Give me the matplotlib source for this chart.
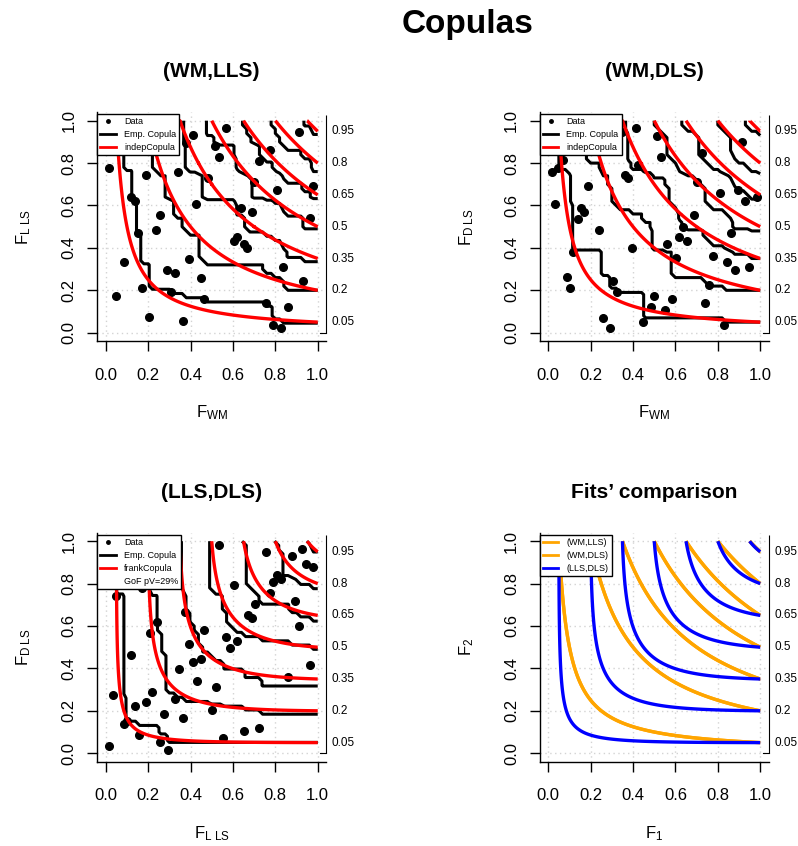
import numpy as np
import matplotlib
matplotlib.use("Agg")
import matplotlib.pyplot as plt
from matplotlib.lines import Line2D

plt.rcParams['font.family'] = ['Liberation Sans', 'DejaVu Sans']
plt.rcParams['mathtext.fontset'] = 'custom'
plt.rcParams['mathtext.rm'] = 'Liberation Sans'
plt.rcParams['mathtext.it'] = 'Liberation Sans:italic'
plt.rcParams['mathtext.bf'] = 'Liberation Sans:bold'

# contour levels of the copulas
levels = [0.05, 0.2, 0.35, 0.5, 0.65, 0.8, 0.95]
level_labels = ["0.05", "0.2", "0.35", "0.5", "0.65", "0.8", "0.95"]
tick_values = [0.0, 0.2, 0.4, 0.6, 0.8, 1.0]
tick_labels = ["0.0", "0.2", "0.4", "0.6", "0.8", "1.0"]

# fitted Frank parameter for (LLS,DLS) and GoF p-value
frank_theta = 5.0
gof_pvalue = 29

# pseudo-observations (WM, LLS)
wm_lls_u = [0.016, 0.189, 0.343, 0.378, 0.413, 0.567, 0.517, 0.534, 0.480, 0.910,
            0.775, 0.721, 0.701, 0.810, 0.980, 0.121, 0.137, 0.428, 0.258, 0.239,
            0.153, 0.636, 0.688, 0.962, 0.617, 0.605, 0.652, 0.665, 0.085, 0.394,
            0.291, 0.326, 0.447, 0.837, 0.929, 0.172, 0.309, 0.050, 0.463, 0.756,
            0.860, 0.205, 0.362, 0.790, 0.827]
wm_lls_v = [0.778, 0.742, 0.759, 0.896, 0.931, 0.966, 0.881, 0.827, 0.728, 0.948,
            0.862, 0.810, 0.709, 0.673, 0.692, 0.639, 0.623, 0.606, 0.555, 0.484,
            0.469, 0.587, 0.571, 0.540, 0.453, 0.433, 0.417, 0.398, 0.332, 0.346,
            0.296, 0.280, 0.259, 0.311, 0.244, 0.209, 0.193, 0.175, 0.159, 0.139,
            0.123, 0.073, 0.054, 0.038, 0.024]

# pseudo-observations (WM, DLS)
wm_dls_u = [0.016, 0.047, 0.071, 0.031, 0.189, 0.139, 0.154, 0.170, 0.241, 0.115,
            0.087, 0.102, 0.257, 0.291, 0.307, 0.326, 0.362, 0.378, 0.394, 0.414,
            0.425, 0.346, 0.512, 0.532, 0.449, 0.483, 0.499, 0.551, 0.586, 0.562,
            0.603, 0.619, 0.638, 0.654, 0.688, 0.724, 0.701, 0.756, 0.740, 0.776,
            0.811, 0.827, 0.843, 0.861, 0.879, 0.894, 0.915, 0.929, 0.948, 0.984]
wm_dls_v = [0.759, 0.778, 0.814, 0.605, 0.692, 0.536, 0.586, 0.571, 0.484, 0.382,
            0.261, 0.209, 0.071, 0.020, 0.245, 0.193, 0.744, 0.728, 0.398, 0.967,
            0.791, 0.948, 0.929, 0.827, 0.052, 0.123, 0.175, 0.107, 0.157, 0.417,
            0.351, 0.450, 0.500, 0.432, 0.555, 0.846, 0.709, 0.225, 0.138, 0.363,
            0.657, 0.036, 0.332, 0.469, 0.296, 0.673, 0.898, 0.621, 0.311, 0.642]

# pseudo-observations (LLS, DLS)
lls_dls_u = [0.016, 0.035, 0.050, 0.087, 0.098, 0.121, 0.137, 0.156, 0.172, 0.189,
             0.208, 0.220, 0.243, 0.258, 0.276, 0.294, 0.328, 0.345, 0.362, 0.376,
             0.394, 0.413, 0.431, 0.447, 0.465, 0.499, 0.518, 0.534, 0.551, 0.567,
             0.586, 0.605, 0.617, 0.652, 0.672, 0.690, 0.704, 0.721, 0.756, 0.775,
             0.791, 0.806, 0.825, 0.861, 0.877, 0.894, 0.913, 0.928, 0.945, 0.964,
             0.980]
lls_dls_v = [0.033, 0.276, 0.742, 0.137, 0.150, 0.463, 0.224, 0.084, 0.777, 0.240,
             0.566, 0.291, 0.618, 0.052, 0.186, 0.016, 0.257, 0.398, 0.167, 0.668,
             0.513, 0.428, 0.341, 0.444, 0.581, 0.204, 0.311, 0.983, 0.071, 0.550,
             0.498, 0.795, 0.531, 0.103, 0.652, 0.636, 0.703, 0.118, 0.948, 0.755,
             0.808, 0.839, 0.823, 0.360, 0.929, 0.720, 0.602, 0.961, 0.894, 0.414,
             0.880]

ORANGE = "#FFA500"
BLUE = "#0000FF"
RED = "#FF0000"


def indep_copula(U, V):
    return U * V


def frank_copula(U, V, theta):
    num = np.expm1(-theta * U) * np.expm1(-theta * V)
    return -np.log1p(num / np.expm1(-theta)) / theta


def empirical_copula(u, v, grid):
    u = np.asarray(u)
    v = np.asarray(v)
    A = (u[None, :] <= grid[:, None]).astype(float)
    B = (v[None, :] <= grid[:, None]).astype(float)
    return (B @ A.T) / len(u)


fine = np.linspace(0, 1, 401)
FU, FV = np.meshgrid(fine, fine)
coarse = np.linspace(0, 1, 51)

fig = plt.figure(figsize=(7.98, 8.46), dpi=100)

W, H = 798.0, 846.0
axw, axh = 228.9, 229.0
lefts = [97.3, 539.8]
bottoms = [341.2, 761.7]


def make_axes(col, row):
    l = lefts[col] / W
    b = 1 - bottoms[row] / H
    return fig.add_axes([l, b, axw / W, axh / H])


def style(ax, title, xlabel, ylabel):
    ax.set_xlim(-0.04, 1.04)
    ax.set_ylim(-0.04, 1.04)
    ax.set_xticks(tick_values)
    ax.set_yticks(tick_values)
    ax.set_xticklabels(tick_labels)
    ax.set_yticklabels(tick_labels, rotation=90, va='center')
    for s in ['top', 'right']:
        ax.spines[s].set_visible(False)
    for s in ['left', 'bottom']:
        ax.spines[s].set_linewidth(1.0)
    ax.tick_params(direction='out', length=7, width=1, labelsize=12)
    ax.tick_params(axis='x', pad=12)
    ax.tick_params(axis='y', pad=8)
    for t in tick_values:
        ax.axvline(t, color='lightgray', ls=(0, (1, 2.5)), lw=1, zorder=0)
        ax.axhline(t, color='lightgray', ls=(0, (1, 2.5)), lw=1, zorder=0)
    ax.text(0.5, 1.176, title, transform=ax.transAxes, ha='center', va='center',
            fontsize=15, fontweight='bold')
    ax.text(0.5, -0.314, xlabel, transform=ax.transAxes, ha='center', va='center',
            fontsize=12)
    ax.text(-0.32, 0.5, ylabel, transform=ax.transAxes, ha='center', va='center',
            fontsize=12, rotation=90)
    tr = ax.get_yaxis_transform()
    for lv, lab in zip(levels, level_labels):
        ax.text(1.025, lv, lab, transform=tr, ha='left', va='center', fontsize=8.5)
    ax.plot([1.0, 1.0], [0.0, 1.027], transform=tr, color='black', lw=0.8,
            clip_on=False, solid_capstyle='butt')
    ax.plot([1.0 - 6 / axw, 1.0], [0.0, 0.0], transform=tr, color='black', lw=0.8,
            clip_on=False)


def legend(ax, handles, labels):
    leg = ax.legend(handles, labels, loc='upper left', bbox_to_anchor=(0.0, 0.992),
                    fontsize=6.5, frameon=True, fancybox=False, framealpha=1,
                    edgecolor='black', borderpad=0.35, labelspacing=0.45,
                    handlelength=1.7, handletextpad=0.9, borderaxespad=0)
    leg.get_frame().set_linewidth(1.0)
    leg.set_zorder(10)


def data_panel(ax, u, v, model):
    ax.plot(u, v, 'o', color='black', ms=5.5, zorder=2, clip_on=False)
    EC = empirical_copula(u, v, coarse)
    ax.contour(coarse, coarse, EC, levels=levels, colors='black', linewidths=2.2,
               zorder=3)
    ax.contour(FU, FV, model, levels=levels, colors=RED, linewidths=2.4, zorder=4)


pt_handle = Line2D([], [], ls='none', marker='o', color='black', ms=2.5)
blk_handle = Line2D([], [], color='black', lw=2)
red_handle = Line2D([], [], color=RED, lw=2)
blank = Line2D([], [], ls='none')

# (WM,LLS)
ax1 = make_axes(0, 0)
data_panel(ax1, wm_lls_u, wm_lls_v, indep_copula(FU, FV))
style(ax1, "(WM,LLS)", r"$\mathrm{F}_{\mathrm{WM}}$", r"$\mathrm{F}_{\mathrm{L\ LS}}$")
legend(ax1, [pt_handle, blk_handle, red_handle], ["Data", "Emp. Copula", "indepCopula"])

# (WM,DLS)
ax2 = make_axes(1, 0)
data_panel(ax2, wm_dls_u, wm_dls_v, indep_copula(FU, FV))
style(ax2, "(WM,DLS)", r"$\mathrm{F}_{\mathrm{WM}}$", r"$\mathrm{F}_{\mathrm{D\ LS}}$")
legend(ax2, [pt_handle, blk_handle, red_handle], ["Data", "Emp. Copula", "indepCopula"])

# (LLS,DLS)
ax3 = make_axes(0, 1)
data_panel(ax3, lls_dls_u, lls_dls_v, frank_copula(FU, FV, frank_theta))
style(ax3, "(LLS,DLS)", r"$\mathrm{F}_{\mathrm{L\ LS}}$", r"$\mathrm{F}_{\mathrm{D\ LS}}$")
legend(ax3, [pt_handle, blk_handle, red_handle, blank],
       ["Data", "Emp. Copula", "frankCopula", f"GoF pV={gof_pvalue}%"])

# Fits' comparison
ax4 = make_axes(1, 1)
ax4.contour(FU, FV, indep_copula(FU, FV), levels=levels, colors=ORANGE,
            linewidths=2.4, zorder=3)
ax4.contour(FU, FV, indep_copula(FU, FV), levels=levels, colors=ORANGE,
            linewidths=2.4, zorder=3)
ax4.contour(FU, FV, frank_copula(FU, FV, frank_theta), levels=levels, colors=BLUE,
            linewidths=2.4, zorder=4)
style(ax4, "Fits\u2019 comparison", r"$\mathrm{F}_{1}$", r"$\mathrm{F}_{2}$")
legend(ax4, [Line2D([], [], color=ORANGE, lw=2), Line2D([], [], color=ORANGE, lw=2),
             Line2D([], [], color=BLUE, lw=2)],
       ["(WM,LLS)", "(WM,DLS)", "(LLS,DLS)"])

fig.text(468 / W, 1 - 24 / H, "Copulas", ha='center', va='center', fontsize=24,
         fontweight='bold')

fig.savefig("out.png", dpi=100)
